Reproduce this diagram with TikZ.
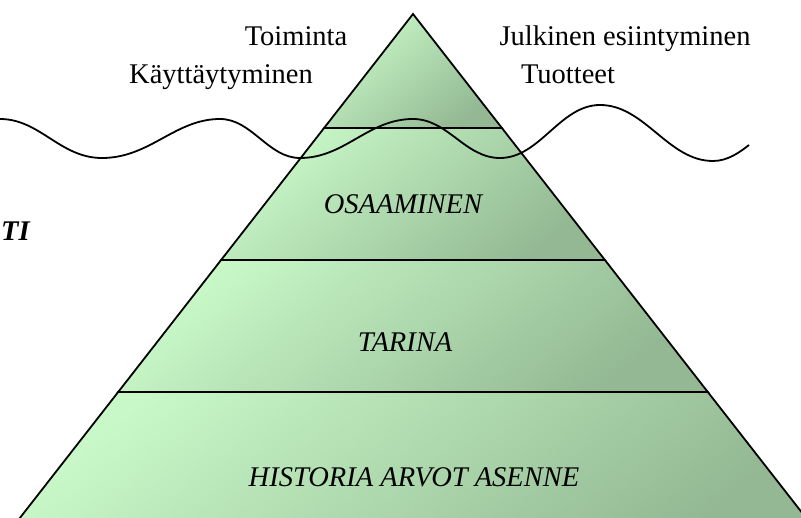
\documentclass[tikz,border=0pt]{standalone}
\usepackage{fontspec}
\setmainfont{Liberation Serif}
\definecolor{glight}{HTML}{C8F8C8}
\definecolor{gdark}{HTML}{93B893}
\begin{document}
\begin{tikzpicture}[x=1pt,y=-1pt,
  layer/.style={draw=black,line width=1.8pt,line join=miter,top color=glight,bottom color=gdark,shading angle=40},
  wave/.style={draw=black,line width=1.8pt},
  lbl/.style={font=\fontsize{28.5}{32}\selectfont,anchor=base,inner sep=0pt},
  ital/.style={lbl,font=\fontsize{28.5}{32}\selectfont\itshape}]
\useasboundingbox (0,0) rectangle (801,518);
\clip (0,0) rectangle (801,518);

% pyramid corners: apex and the left/right ends of each level
\coordinate (apex) at (413,14);
\coordinate (l1) at (324.1,128); \coordinate (r1) at (501.9,128);
\coordinate (l2) at (221.1,260); \coordinate (r2) at (604.9,260);
\coordinate (l3) at (118.2,392); \coordinate (r3) at (707.8,392);
\coordinate (l4) at (2.7,540);   \coordinate (r4) at (823.3,540);

% shaded levels
\path[layer] (apex) -- (r1) -- (l1) -- cycle;
\path[layer] (l1) -- (r1) -- (r2) -- (l2) -- cycle;
\path[layer] (l2) -- (r2) -- (r3) -- (l3) -- cycle;
\path[layer] (l3) -- (r3) -- (r4) -- (l4) -- cycle;

% waterline
\path[wave] (0,119)
  .. controls (40,119) and (60,158) .. (102,158)
  .. controls (150,158) and (175,119) .. (220,119)
  .. controls (252,119) and (268,158) .. (300,158)
  .. controls (345,158) and (368,119) .. (413,119)
  .. controls (448,119) and (465,158) .. (500,158)
  .. controls (540,158) and (560,105) .. (600,105)
  .. controls (645,105) and (668,161) .. (713,161)
  .. controls (728,161) and (740,152) .. (749,145);

% labels above the water
\node[lbl] (toiminta) at (296,46) {Toiminta};
\node[lbl] (kaytt) at (221,84) {Käyttäytyminen};
\node[lbl] (julkinen) at (625,46) {Julkinen esiintyminen};
\node[lbl] (tuotteet) at (568,84) {Tuotteet};

% level labels
\node[ital] (osaaminen) at (403,214) {OSAAMINEN};
\node[ital] (tarina) at (405,352) {TARINA};
\node[ital] (historia) at (414,486) {HISTORIA ARVOT ASENNE};

% side caption
\node[lbl,anchor=base west,font=\fontsize{28.5}{32}\selectfont\bfseries\itshape] (side) at (1,241) {TI};
\end{tikzpicture}
\end{document}
